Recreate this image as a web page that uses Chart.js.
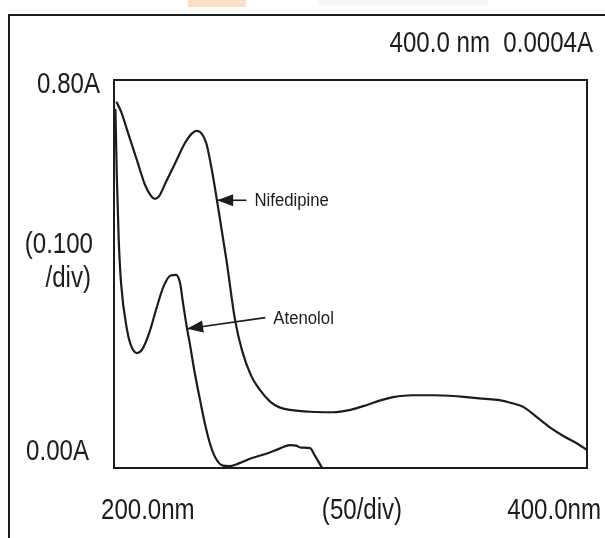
<!DOCTYPE html>
<html>
<head>
<meta charset="utf-8">
<script src="https://cdn.jsdelivr.net/npm/chart.js@4"></script>
<style>
  html, body { margin: 0; padding: 0; background: #fff; }
  #wrap { width: 605px; height: 538px; }
</style>
</head>
<body>
<div id="wrap"><canvas id="spectrum" width="605" height="538"></canvas></div>
<script>
// wavelength (nm) / absorbance (A)
const nifeNm = [201, 203, 206, 210, 213, 215.5, 217.3, 219, 222, 226, 230, 233, 235, 237, 239, 241.4, 243.6, 247.5, 251.2, 254.1, 258, 261.7, 266, 270, 274.4, 283, 292.6, 300, 307, 313, 318, 326, 335, 342, 349, 356, 363, 368, 373, 378, 384, 390, 396, 400];
const nifeAbs = [0.755, 0.735, 0.69, 0.63, 0.585, 0.562, 0.555, 0.56, 0.59, 0.63, 0.67, 0.69, 0.695, 0.69, 0.67, 0.614, 0.55, 0.43, 0.305, 0.243, 0.19, 0.161, 0.137, 0.125, 0.12, 0.116, 0.115, 0.12, 0.13, 0.14, 0.146, 0.15, 0.15, 0.149, 0.146, 0.143, 0.14, 0.134, 0.126, 0.108, 0.085, 0.066, 0.05, 0.037];

const atenNm = [200.6, 201.2, 202, 203, 205.5, 207, 209.7, 212, 215, 218, 221, 224, 226.2, 228, 229, 230.9, 232, 234, 236.4, 238.5, 240.6, 243, 246, 249, 253, 258, 264.7, 270, 274.4, 277, 279, 282.9, 285, 288];
const atenAbs = [0.74, 0.6, 0.47, 0.38, 0.285, 0.255, 0.237, 0.245, 0.28, 0.33, 0.375, 0.397, 0.398, 0.38, 0.346, 0.287, 0.258, 0.2, 0.14, 0.09, 0.05, 0.02, 0.005, 0.004, 0.01, 0.02, 0.03, 0.04, 0.047, 0.046, 0.042, 0.041, 0.025, 0.0];

const xRange = [200, 400];
const yRange = [0, 0.8];

// arrow labels: [text, tip nm, tip A, tail nm, tail A]
const callouts = [
  ["Nifedipine", 243.6, 0.552, 256.0, 0.552],
  ["Atenolol", 230.9, 0.287, 264.0, 0.31]
];

const toPts = (xs, ys) => xs.map((x, i) => ({ x: x, y: ys[i] }));

const FONT = "'Liberation Sans', Arial, sans-serif";
const INK = "#1c1c1c";

// condensed text like the plotter print
function label(c, txt, x, y, align, size, squeeze) {
  c.save();
  c.translate(x, y);
  c.scale(squeeze, 1);
  c.font = size + "px " + FONT;
  c.textAlign = align;
  c.textBaseline = "middle";
  c.fillText(txt, 0, 0);
  c.restore();
}

const decor = {
  id: "decor",
  beforeDraw(chart) {
    const c = chart.ctx;
    c.save();
    c.fillStyle = "#fff";
    c.fillRect(0, 0, chart.width, chart.height);
    // faint watermark smudge at the top
    c.fillStyle = "rgba(246,178,120,0.4)";
    c.fillRect(188, 0, 58, 7);
    c.fillStyle = "rgba(230,230,230,0.3)";
    c.fillRect(318, 0, 170, 6);
    c.restore();
  },
  afterDraw(chart) {
    const c = chart.ctx;
    const a = chart.chartArea;
    const xs = chart.scales.x, ys = chart.scales.y;
    c.save();
    c.strokeStyle = INK;
    c.lineWidth = 2;
    // outer frame (open at right and bottom)
    c.beginPath();
    c.moveTo(9, chart.height);
    c.lineTo(9, 15);
    c.lineTo(chart.width, 15);
    c.stroke();
    // plot box
    c.strokeRect(a.left, a.top, a.right - a.left, a.bottom - a.top);

    c.fillStyle = INK;
    label(c, "400.0 nm  0.0004A", 593, 44, "right", 29, 0.83);
    label(c, "0.80A", 100, ys.getPixelForValue(yRange[1]) + 5, "right", 29, 0.83);
    label(c, "(0.100", 93, 245, "right", 29, 0.83);
    label(c, "/div)", 91, 279, "right", 29, 0.83);
    label(c, "0.00A", 89, ys.getPixelForValue(yRange[0]) - 16, "right", 29, 0.83);
    label(c, "200.0nm", 101, 511, "left", 29, 0.83);
    label(c, "(50/div)", 362, 511, "center", 29, 0.83);
    label(c, "400.0nm", 601, 511, "right", 29, 0.83);

    // callouts
    c.lineWidth = 1.6;
    callouts.forEach(([txt, tx, ty, lx, ly]) => {
      const px = xs.getPixelForValue(tx), py = ys.getPixelForValue(ty);
      const qx = xs.getPixelForValue(lx), qy = ys.getPixelForValue(ly);
      const ang = Math.atan2(qy - py, qx - px);
      c.beginPath();
      c.moveTo(px, py);
      c.lineTo(qx, qy);
      c.stroke();
      const len = 16, half = 6;
      c.beginPath();
      c.moveTo(px, py);
      c.lineTo(px + len * Math.cos(ang) - half * Math.sin(ang), py + len * Math.sin(ang) + half * Math.cos(ang));
      c.lineTo(px + len * Math.cos(ang) + half * Math.sin(ang), py + len * Math.sin(ang) - half * Math.cos(ang));
      c.closePath();
      c.fill();
      label(c, txt, qx + 8, qy + 1, "left", 18, 0.93);
    });
    c.restore();
  }
};

new Chart(document.getElementById("spectrum").getContext("2d"), {
  type: "line",
  data: {
    datasets: [
      { label: "Nifedipine", data: toPts(nifeNm, nifeAbs) },
      { label: "Atenolol", data: toPts(atenNm, atenAbs) }
    ].map(ds => ({
      ...ds,
      borderColor: INK,
      borderWidth: 2.2,
      pointRadius: 0,
      fill: false,
      cubicInterpolationMode: "monotone"
    }))
  },
  options: {
    responsive: false,
    animation: false,
    events: [],
    layout: { padding: { left: 114, right: 18, top: 80, bottom: 70 } },
    plugins: { legend: { display: false }, tooltip: { enabled: false } },
    scales: {
      x: { type: "linear", min: xRange[0], max: xRange[1], display: false },
      y: { min: yRange[0], max: yRange[1], display: false }
    }
  },
  plugins: [decor]
});
</script>
</body>
</html>
